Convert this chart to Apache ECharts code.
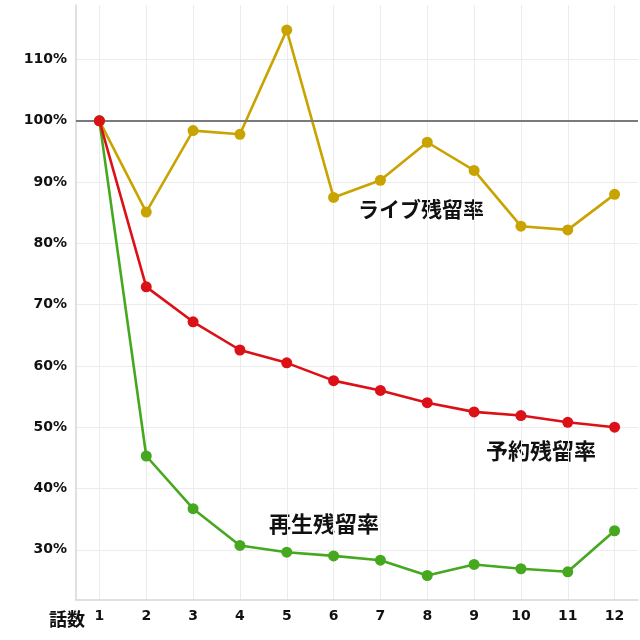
<!DOCTYPE html>
<html><head><meta charset="utf-8">
<script src="https://cdn.jsdelivr.net/npm/echarts@6/dist/echarts.min.js"></script>
<style>html,body{margin:0;padding:0;background:#fff}#c{width:640px;height:640px}</style>
</head><body><div id="c"></div>
<script>
const categories = ['1','2','3','4','5','6','7','8','9','10','11','12'];
const liveRate = [100, 85.1, 98.4, 97.8, 114.8, 87.5, 90.3, 96.5, 91.9, 82.8, 82.2, 88.0];
const reserveRate = [100, 72.9, 67.2, 62.6, 60.5, 57.6, 56.0, 54.0, 52.5, 51.9, 50.8, 50.0];
const playRate = [100, 45.3, 36.7, 30.7, 29.6, 29.0, 28.3, 25.8, 27.6, 26.9, 26.4, 33.1];
const yTicks = [30, 40, 50, 60, 70, 80, 90, 100, 110];
const seriesNames = ['ライブ残留率', '再生残留率', '予約残留率'];

const FONT = 'DejaVu Sans';
const CJK = '"Noto Sans CJK JP"';
function mk(name, data, color, z) {
  return {
    name, type: 'line', data, z,
    symbol: 'circle', symbolSize: 11,
    lineStyle: { color, width: 2.6 },
    itemStyle: { color, borderColor: color, borderWidth: 0 },
    emphasis: { disabled: true },
    animation: false
  };
}
const chart = echarts.init(document.getElementById('c'), null, { renderer: 'canvas' });
const s0 = mk(seriesNames[0], liveRate, '#c9a300', 3);
s0.markLine = {
  silent: true, symbol: 'none', animation: false,
  label: { show: false },
  lineStyle: { color: '#7a7a7a', width: 2, type: 'solid' },
  data: [{ yAxis: 100 }]
};
const xGridVals = categories.map(Number);
chart.setOption({
  animation: false,
  grid: { left: 76, right: 2, top: 5, bottom: 40, containLabel: false },
  xAxis: [{
    type: 'category', data: categories, boundaryGap: true,
    name: '話数', nameLocation: 'start', nameGap: -9,
    nameTextStyle: { fontFamily: CJK, fontWeight: 'bold', fontSize: 18, color: '#111', verticalAlign: 'top', padding: [10, 0, 0, 0] },
    axisLine: { show: true, lineStyle: { color: '#d6d6d6', width: 1.5 } },
    axisTick: { show: false },
    axisLabel: { fontFamily: FONT, fontWeight: 'bold', fontSize: 14, color: '#111', margin: 9 },
    splitLine: { show: false }
  }, {
    type: 'value', min: 0.5, max: 12.5, position: 'bottom',
    axisLine: { show: false },
    axisTick: { show: false, customValues: xGridVals },
    axisLabel: { show: false, customValues: xGridVals },
    splitLine: { show: true, lineStyle: { color: '#ececec', width: 1 } }
  }],
  yAxis: {
    type: 'value', min: 21.8, max: 118.9,
    axisLine: { show: true, lineStyle: { color: '#d6d6d6', width: 1.5 } },
    axisTick: { show: false, customValues: yTicks },
    axisLabel: { customValues: yTicks, formatter: v => v + '%', fontFamily: FONT, fontWeight: 'bold', fontSize: 14, color: '#111', margin: 9 },
    splitLine: { show: true, lineStyle: { color: '#ececec', width: 1 } }
  },
  graphic: [
    { type: 'text', left: 358, top: 199, style: { text: seriesNames[0], font: 'bold 21px ' + CJK, fill: '#111' } },
    { type: 'text', left: 486, top: 440, style: { text: seriesNames[2], font: 'bold 22px ' + CJK, fill: '#111' } },
    { type: 'text', left: 269, top: 513, style: { text: seriesNames[1], font: 'bold 22px ' + CJK, fill: '#111' } }
  ],
  series: [
    s0,
    mk(seriesNames[1], playRate, '#45a81e', 4),
    mk(seriesNames[2], reserveRate, '#dc1017', 5)
  ]
});
</script></body></html>
